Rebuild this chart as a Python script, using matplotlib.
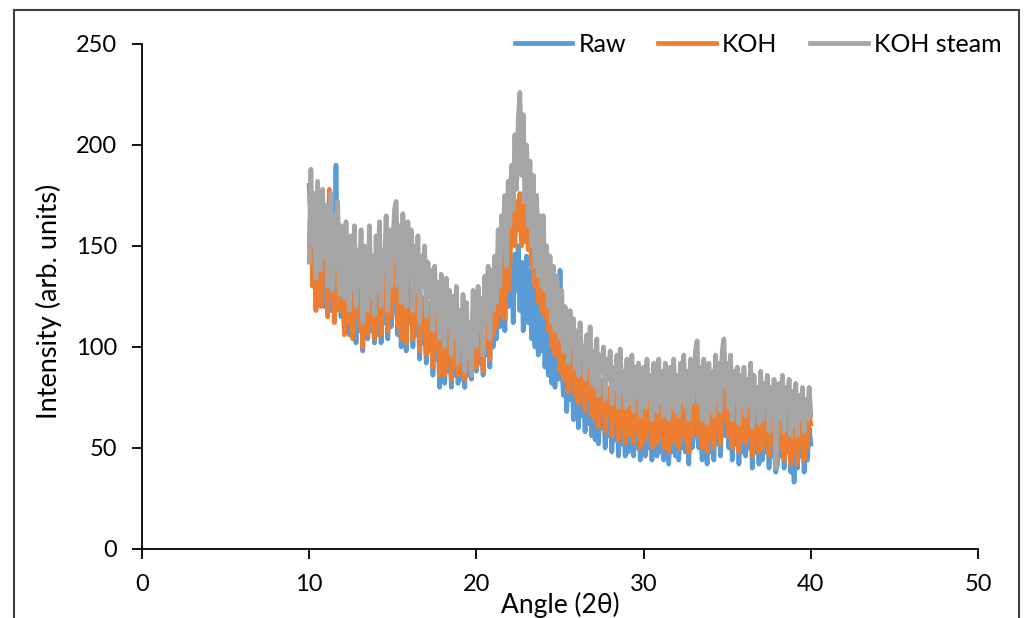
import numpy as np
import matplotlib
matplotlib.use('Agg')
import matplotlib.pyplot as plt
from matplotlib.patches import Rectangle

plt.rcParams['font.family'] = ['Lato', 'DejaVu Sans']

# angle grid, 10 to 40 deg in 0.1 steps
angle = np.round(np.arange(10.0, 40.001, 0.1), 1)

raw = [180, 158, 140, 165, 125, 150, 170, 130, 160, 120,
       168, 128, 150, 118, 155, 135, 190, 124, 145, 115,
       138, 110, 145, 122, 106, 140, 112, 135, 102, 128,
       108, 130, 98, 124, 112, 104, 135, 108, 120, 102,
       128, 106, 138, 102, 124, 112, 142, 104, 130, 110,
       120, 140, 132, 106, 128, 100, 135, 114, 98, 130,
       112, 128, 100, 120, 106, 124, 94, 118, 102, 112,
       92, 116, 98, 110, 86, 118, 94, 106, 80, 112,
       96, 82, 108, 88, 104, 80, 100, 86, 110, 82,
       96, 84, 106, 80, 102, 86, 96, 84, 112, 90,
       88, 108, 92, 104, 86, 114, 96, 118, 90, 116,
       100, 120, 104, 130, 110, 126, 138, 108, 140, 120,
       122, 140, 112, 146, 128, 150, 118, 142, 108, 135,
       145, 112, 138, 104, 130, 100, 126, 96, 122, 98,
       118, 90, 112, 86, 108, 82, 104, 80, 110, 84,
       138, 92, 76, 100, 68, 90, 74, 96, 64, 86,
       78, 60, 84, 66, 76, 58, 80, 62, 82, 56,
       72, 54, 76, 52, 70, 60, 74, 50, 68, 56,
       70, 48, 64, 54, 68, 46, 70, 52, 62, 46,
       66, 48, 60, 70, 46, 64, 50, 66, 44, 60,
       64, 46, 68, 50, 62, 44, 66, 52, 46, 68,
       48, 62, 44, 66, 54, 42, 64, 48, 68, 46,
       62, 44, 66, 50, 70, 48, 64, 42, 68, 50,
       56, 70, 74, 50, 64, 44, 68, 52, 42, 66,
       48, 64, 44, 70, 52, 66, 46, 72, 76, 56,
       66, 50, 74, 44, 62, 52, 64, 42, 60, 48,
       64, 46, 60, 50, 66, 40, 62, 48, 56, 42,
       62, 44, 58, 48, 60, 40, 56, 46, 60, 38,
       42, 58, 46, 62, 40, 56, 48, 60, 38, 54,
       33, 58, 40, 54, 46, 60, 38, 52, 44, 60,
       52]

koh = [150, 172, 130, 160, 118, 165, 140, 120, 158, 135,
       150, 115, 178, 125, 148, 112, 160, 130, 118, 150,
       128, 106, 142, 118, 112, 138, 104, 145, 116, 130,
       110, 135, 100, 128, 118, 106, 140, 112, 125, 104,
       135, 112, 145, 106, 130, 118, 150, 108, 138, 115,
       128, 150, 140, 110, 135, 104, 142, 120, 102, 138,
       118, 135, 104, 128, 112, 130, 98, 125, 108, 120,
       96, 122, 104, 118, 90, 124, 100, 112, 86, 118,
       102, 86, 115, 92, 110, 84, 108, 90, 116, 86,
       100, 88, 112, 84, 108, 90, 100, 86, 118, 94,
       90, 115, 96, 110, 88, 120, 100, 125, 94, 124,
       106, 128, 110, 140, 116, 135, 148, 114, 150, 128,
       140, 165, 178, 150, 172, 158, 176, 150, 170, 152,
       175, 148, 168, 140, 160, 130, 150, 122, 145, 118,
       150, 115, 138, 108, 130, 100, 125, 96, 126, 104,
       88, 112, 84, 104, 96, 78, 102, 86, 98, 76,
       92, 72, 96, 78, 86, 68, 90, 74, 94, 66,
       84, 64, 88, 60, 80, 70, 84, 58, 78, 66,
       80, 56, 74, 62, 78, 54, 82, 60, 72, 52,
       76, 56, 70, 80, 52, 74, 58, 76, 50, 68,
       74, 54, 78, 58, 70, 50, 76, 60, 52, 78,
       56, 72, 50, 76, 62, 48, 74, 54, 78, 52,
       70, 50, 76, 56, 80, 54, 72, 48, 78, 56,
       64, 80, 84, 56, 74, 50, 78, 60, 48, 76,
       54, 72, 50, 80, 58, 76, 52, 82, 86, 64,
       76, 56, 92, 50, 72, 58, 74, 48, 70, 54,
       74, 52, 68, 56, 76, 46, 70, 54, 64, 48,
       72, 50, 66, 54, 70, 46, 64, 52, 68, 42,
       48, 66, 50, 70, 44, 64, 54, 68, 42, 62,
       48, 66, 42, 60, 52, 64, 44, 58, 50, 66,
       62]

koh_steam = [142, 188, 150, 176, 134, 182, 160, 138, 178, 145,
             170, 130, 158, 176, 128, 165, 140, 172, 126, 160,
             150, 124, 162, 134, 118, 155, 128, 160, 120, 148,
             130, 158, 112, 150, 136, 118, 160, 125, 145, 116,
             155, 128, 162, 120, 148, 138, 165, 118, 158, 130,
             150, 168, 172, 130, 160, 122, 166, 140, 120, 162,
             135, 158, 118, 150, 128, 155, 112, 145, 130, 150,
             115, 142, 125, 138, 108, 140, 118, 132, 104, 136,
             120, 100, 134, 110, 128, 96, 125, 105, 130, 92,
             118, 100, 126, 88, 122, 95, 112, 86, 128, 104,
             100, 130, 108, 124, 96, 135, 112, 140, 104, 138,
             118, 145, 122, 158, 130, 165, 150, 175, 140, 182,
             160, 190, 168, 205, 178, 212, 226, 185, 215, 172,
             200, 160, 192, 150, 185, 140, 175, 135, 165, 130,
             165, 128, 150, 120, 145, 112, 140, 108, 135, 118,
             104, 128, 98, 120, 110, 92, 118, 100, 114, 90,
             108, 86, 112, 94, 100, 84, 106, 90, 110, 82,
             98, 80, 104, 76, 96, 88, 100, 74, 94, 84,
             98, 72, 90, 80, 96, 70, 99, 78, 88, 70,
             94, 72, 86, 96, 68, 90, 76, 92, 66, 84,
             90, 70, 94, 74, 86, 64, 92, 78, 68, 94,
             72, 88, 66, 92, 80, 64, 90, 70, 94, 68,
             86, 66, 92, 74, 96, 70, 88, 64, 94, 72,
             80, 98, 103, 72, 90, 64, 94, 76, 62, 92,
             70, 88, 66, 96, 74, 92, 68, 98, 104, 80,
             92, 70, 96, 64, 88, 74, 90, 62, 86, 70,
             90, 66, 84, 72, 92, 60, 86, 70, 80, 62,
             88, 64, 82, 70, 86, 58, 80, 66, 84, 40,
             60, 82, 64, 86, 58, 80, 70, 84, 56, 78,
             62, 82, 56, 76, 66, 80, 58, 74, 64, 80,
             66]

fig = plt.figure(figsize=(10.24, 6.18), dpi=100)
ax = fig.add_axes([0.1387, 0.1117, 0.8164, 0.8172])

ax.plot(angle, raw, color='#5B9BD5', lw=3.4, label='Raw')
ax.plot(angle, koh, color='#ED7D31', lw=3.4, label='KOH')
ax.plot(angle, koh_steam, color='#A5A5A5', lw=3.4, label='KOH steam')

ax.set_xlim(0, 50)
ax.set_ylim(0, 250)
ax.set_xticks(range(0, 51, 10))
ax.set_yticks(range(0, 251, 50))
ax.spines['top'].set_visible(False)
ax.spines['right'].set_visible(False)
ax.spines['left'].set_linewidth(1.3)
ax.spines['bottom'].set_linewidth(1.3)
ax.tick_params(direction='out', length=7, width=1.3, labelsize=17, pad=11)

ax.set_xlabel('Angle (2θ)', fontsize=19)
ax.xaxis.set_label_coords(0.5, -0.085)
ax.set_ylabel('Intensity (arb. units)', fontsize=19.5)
ax.yaxis.set_label_coords(-0.096, 0.49)

ax.legend(loc='upper right', bbox_to_anchor=(0.978, 0.947), bbox_transform=fig.transFigure,
          ncol=3, frameon=False, fontsize=18, handlelength=2.3, handletextpad=0.25,
          columnspacing=1.3, borderaxespad=0, borderpad=0)

fig.patches.append(Rectangle((14 / 1024, -0.02), 1005 / 1024, 1.02 - 10 / 618,
                             transform=fig.transFigure, fill=False,
                             edgecolor='#404040', lw=1.5))

fig.savefig('out.png', dpi=100)
